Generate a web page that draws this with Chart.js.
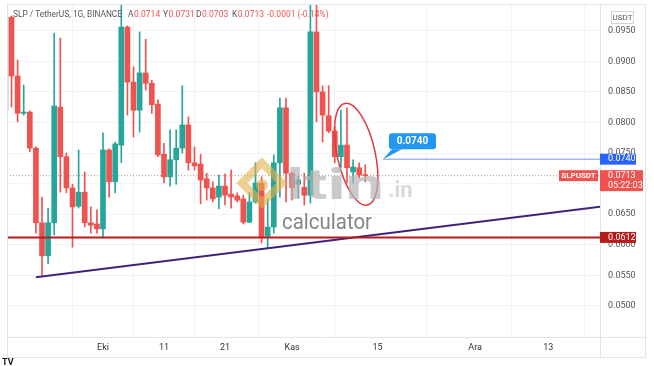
<!DOCTYPE html>
<html>
<head>
<meta charset="utf-8">
<script src="https://cdn.jsdelivr.net/npm/chart.js@4.4.1/dist/chart.umd.min.js"></script>
<style>
  html, body { margin: 0; padding: 0; background: #fff; }
  #wrap { width: 654px; height: 366px; }
</style>
</head>
<body>
<div id="wrap"><canvas id="chart" width="654" height="366"></canvas></div>
<script>
// Velas diarias SLP/USDT, dias contados desde el 1 de Eki (octubre)
const days = [-16, -15, -14, -13, -12, -11, -10, -9, -8, -7, -6, -5, -4, -3, -2, -1,
  0, 1, 2, 3, 4, 5, 6, 7, 8, 9, 10, 11, 12, 13, 14, 15, 16, 17, 18, 19, 20, 21, 22, 23,
  24, 25, 26, 27, 28, 29, 30, 31, 32, 33, 34, 35, 36, 37, 38, 39, 40, 41, 42, 43];

const opens = [0.0820, 0.0972, 0.0876, 0.0815, 0.0817, 0.0758, 0.0636, 0.0582, 0.0636, 0.0825,
  0.0744, 0.0693, 0.0663, 0.0686, 0.0636, 0.0634, 0.0626, 0.0755, 0.0703, 0.0763,
  0.0956, 0.0866, 0.0820, 0.0881, 0.0864, 0.0830, 0.0748, 0.0711, 0.0739, 0.0758,
  0.0796, 0.0734, 0.0732, 0.0708, 0.0693, 0.0678, 0.0696, 0.0683, 0.0680, 0.0675,
  0.0637, 0.0670, 0.0701, 0.0614, 0.0629, 0.0734, 0.0824, 0.0717, 0.0699, 0.0694,
  0.0681, 0.0948, 0.0850, 0.0811, 0.0786, 0.0744, 0.0763, 0.0719, 0.0726, 0.0714];

const highs = [0.0974, 0.0974, 0.0902, 0.0861, 0.0819, 0.0760, 0.0678, 0.0660, 0.0946, 0.0938,
  0.0750, 0.0699, 0.0755, 0.0719, 0.0662, 0.0657, 0.0783, 0.0757, 0.0768, 0.0992,
  0.0958, 0.0891, 0.0948, 0.0936, 0.0869, 0.0837, 0.0766, 0.0788, 0.0788, 0.0860,
  0.0809, 0.0760, 0.0748, 0.0717, 0.0703, 0.0714, 0.0716, 0.0722, 0.0685, 0.0681,
  0.0685, 0.0734, 0.0711, 0.0675, 0.0747, 0.0840, 0.0840, 0.0719, 0.0712, 0.0717,
  0.0992, 0.0992, 0.0860, 0.0860, 0.0793, 0.0820, 0.0824, 0.0739, 0.0734, 0.0731];

const lows = [0.0812, 0.0825, 0.0801, 0.0812, 0.0752, 0.0619, 0.0549, 0.0569, 0.0616, 0.0686,
  0.0685, 0.0596, 0.0660, 0.0629, 0.0619, 0.0619, 0.0611, 0.0678, 0.0685, 0.0734,
  0.0812, 0.0776, 0.0784, 0.0853, 0.0815, 0.0744, 0.0701, 0.0696, 0.0699, 0.0750,
  0.0722, 0.0722, 0.0667, 0.0673, 0.0670, 0.0659, 0.0665, 0.0660, 0.0670, 0.0634,
  0.0636, 0.0668, 0.0603, 0.0595, 0.0619, 0.0678, 0.0670, 0.0673, 0.0677, 0.0665,
  0.0668, 0.0801, 0.0768, 0.0783, 0.0734, 0.0727, 0.0701, 0.0701, 0.0709, 0.0703];

const closes = [0.0972, 0.0876, 0.0815, 0.0817, 0.0758, 0.0636, 0.0582, 0.0636, 0.0827, 0.0744,
  0.0693, 0.0662, 0.0686, 0.0636, 0.0632, 0.0626, 0.0755, 0.0703, 0.0765, 0.0956,
  0.0866, 0.0820, 0.0881, 0.0864, 0.0829, 0.0747, 0.0711, 0.0739, 0.0758, 0.0796,
  0.0734, 0.0729, 0.0706, 0.0693, 0.0675, 0.0696, 0.0681, 0.0678, 0.0673, 0.0637,
  0.0670, 0.0701, 0.0613, 0.0629, 0.0734, 0.0824, 0.0717, 0.0693, 0.0706, 0.0681,
  0.0948, 0.0850, 0.0812, 0.0786, 0.0744, 0.0763, 0.0726, 0.0727, 0.0714, 0.0713];

// Ejes
const tickDays = [0, 10, 20, 31, 45, 61, 73];
const tickLabels = ['Eki', '11', '21', 'Kas', '15', 'Ara', '13'];
const priceTicks = [0.0500, 0.0550, 0.0600, 0.0650, 0.0700, 0.0750, 0.0800, 0.0850, 0.0900, 0.0950];
const viewDays = [-15.74, 81.48];
const viewPrices = [0.04492, 0.09937];

// Niveles y línea de tendencia dibujados sobre el gráfico
const supportLevel = 0.0612;
const targetLevel = 0.0740;
const targetFromDay = 45.9;
const lastPrice = 0.0713;
const lastCountdown = '05:22:03';
const trendDays = [-11, 81.48];
const trendPrices = [0.0547, 0.0662];
const ohlcLast = { A: '0.0714', Y: '0.0731', D: '0.0703', K: '0.0713' };
const changeText = '-0.0001 (-0.14%)';

const upColor = '#26a69a';
const downColor = '#ef5350';
const fontFamily = 'Roboto, "Liberation Sans", sans-serif';

const candleColors = days.map((d, i) => closes[i] >= opens[i] ? upColor : downColor);


// Plugin para fondo, marco, etiquetas de precio, anotaciones y marca de agua
const overlayPlugin = {
    id: 'overlay',
    beforeDraw(chart) {
        const ctx = chart.ctx;
        ctx.save();
        ctx.fillStyle = '#ffffff';
        ctx.fillRect(0, 0, chart.width, chart.height);
        ctx.restore();
    },
    afterDatasetsDraw(chart) {
        const ctx = chart.ctx;
        const x = chart.scales.x;
        const y = chart.scales.y;

        // elipse roja alrededor de las últimas velas
        ctx.save();
        ctx.strokeStyle = '#e0393a';
        ctx.lineWidth = 1.5;
        ctx.beginPath();
        ctx.ellipse(x.getPixelForValue(41.5), y.getPixelForValue(0.0748), 19, 52, -0.22, 0, Math.PI * 2);
        ctx.stroke();
        ctx.restore();

        // globo 0.0740
        const tx = x.getPixelForValue(targetFromDay);
        const ty = y.getPixelForValue(targetLevel);
        ctx.save();
        ctx.fillStyle = '#2196f3';
        ctx.beginPath();
        ctx.moveTo(tx, ty);
        ctx.lineTo(tx + 9, ty - 10);
        ctx.lineTo(tx + 19, ty - 10);
        ctx.closePath();
        ctx.fill();
        ctx.beginPath();
        ctx.roundRect(tx + 6, ty - 26, 47, 16, 3);
        ctx.fill();
        ctx.fillStyle = '#ffffff';
        ctx.font = 'bold 10px ' + fontFamily;
        ctx.textAlign = 'center';
        ctx.textBaseline = 'middle';
        ctx.fillText(targetLevel.toFixed(4), tx + 29.5, ty - 17.5);
        ctx.restore();

        // marca de agua altin.in calculator
        ctx.save();
        ctx.globalAlpha = 0.6;
        ctx.strokeStyle = '#e3b04b';
        ctx.fillStyle = '#e3b04b';
        ctx.lineWidth = 8;
        ctx.beginPath();
        ctx.moveTo(262, 163);
        ctx.lineTo(282, 183);
        ctx.lineTo(262, 203);
        ctx.lineTo(242, 183);
        ctx.closePath();
        ctx.stroke();
        ctx.beginPath();
        ctx.arc(262, 185, 6, 0, Math.PI * 2);
        ctx.fill();

        ctx.globalAlpha = 0.7;
        ctx.fillStyle = '#b3b3b3';
        ctx.font = 'bold 42px ' + fontFamily;
        ctx.textBaseline = 'alphabetic';
        const w = ctx.measureText('ltin').width;
        ctx.save();
        ctx.translate(286, 199);
        ctx.scale(98 / w, 1);
        ctx.fillText('ltin', 0, 0);
        ctx.restore();

        ctx.globalAlpha = 0.5;
        ctx.font = 'bold 22px ' + fontFamily;
        ctx.fillText('.in', 388, 197);
        ctx.globalAlpha = 0.85;
        ctx.fillStyle = '#707070';
        ctx.font = '22px ' + fontFamily;
        ctx.fillText('calculator', 282, 229, 90);
        ctx.restore();
    },
    afterDraw(chart) {
        const ctx = chart.ctx;
        const area = chart.chartArea;
        const y = chart.scales.y;

        // marco
        ctx.save();
        ctx.strokeStyle = '#e0e3eb';
        ctx.lineWidth = 1;
        ctx.strokeRect(area.left + 0.5, area.top + 0.5, 645 - area.left, 357 - area.top);
        ctx.beginPath();
        ctx.moveTo(area.right + 0.5, area.top);
        ctx.lineTo(area.right + 0.5, 357.5);
        ctx.moveTo(area.left, area.bottom + 0.5);
        ctx.lineTo(645.5, area.bottom + 0.5);
        ctx.stroke();
        ctx.restore();

        // etiquetas en el eje de precios
        function tag(value, fill, left, width, height) {
            const py = y.getPixelForValue(value);
            ctx.fillStyle = fill;
            ctx.fillRect(left, py - 5.5, width, height);
        }
        ctx.save();
        ctx.font = '9px ' + fontFamily;
        ctx.textBaseline = 'middle';
        ctx.textAlign = 'left';

        tag(targetLevel, '#2962ff', area.right, 36, 11);
        ctx.fillStyle = '#ffffff';
        ctx.fillText(targetLevel.toFixed(4), area.right + 8, y.getPixelForValue(targetLevel));

        tag(lastPrice, '#ef5350', area.right, 43, 21);
        ctx.fillStyle = '#ffffff';
        ctx.fillText(lastPrice.toFixed(4), area.right + 8, y.getPixelForValue(lastPrice));
        ctx.fillText(lastCountdown, area.right + 8, y.getPixelForValue(lastPrice) + 10);

        tag(lastPrice, '#ef5350', area.right - 41, 39, 11);
        ctx.fillStyle = '#ffffff';
        ctx.font = 'bold 8px ' + fontFamily;
        ctx.textAlign = 'center';
        ctx.fillText('SLPUSDT', area.right - 21.5, y.getPixelForValue(lastPrice), 37);

        ctx.font = '9px ' + fontFamily;
        ctx.textAlign = 'left';
        tag(supportLevel, '#b71c1c', area.right, 36, 11);
        ctx.fillStyle = '#ffffff';
        ctx.fillText(supportLevel.toFixed(4), area.right + 8, y.getPixelForValue(supportLevel));

        // caja USDT
        ctx.fillStyle = '#ffffff';
        ctx.fillRect(611, 11, 22, 12);
        ctx.strokeStyle = '#d1d4dc';
        ctx.strokeRect(611.5, 11.5, 22, 12);
        ctx.fillStyle = '#555555';
        ctx.font = '8px ' + fontFamily;
        ctx.textAlign = 'center';
        ctx.fillText('USDT', 622.5, 17.5, 20);

        // leyenda superior
        ctx.textAlign = 'left';
        ctx.font = '8.5px ' + fontFamily;
        ctx.fillStyle = '#555555';
        ctx.fillText('SLP / TetherUS, 1G, BINANCE', 13, 15, 109);
        const groups = [['A', 128], ['Y', 163], ['D', 196], ['K', 232]];
        groups.forEach(([k, gx]) => {
            ctx.fillStyle = '#555555';
            ctx.fillText(k, gx, 15);
            const kw = ctx.measureText(k).width + 0.5;
            ctx.fillStyle = '#ef5350';
            ctx.fillText(ohlcLast[k], gx + kw, 15, 27);
        });
        ctx.fillText(changeText, 267, 15, 64);

        // logo inferior
        ctx.fillStyle = '#131722';
        ctx.font = 'bold 9px ' + fontFamily;
        ctx.fillText('TV', 2, 363);
        ctx.restore();
    }
};


// Gráfico de velas con barras flotantes (mecha + cuerpo) y líneas de referencia
const ctxCandles = document.getElementById('chart').getContext('2d');
const candleChart = new Chart(ctxCandles, {
    type: 'bar',
    data: {
        datasets: [
            {
                type: 'line',
                label: 'Soporte',
                data: [{ x: viewDays[0], y: supportLevel }, { x: viewDays[1], y: supportLevel }],
                borderColor: '#b71c1c',
                borderWidth: 2,
                pointRadius: 0,
                order: 0
            },
            {
                type: 'line',
                label: 'Tendencia',
                data: [{ x: trendDays[0], y: trendPrices[0] }, { x: trendDays[1], y: trendPrices[1] }],
                borderColor: '#42237a',
                borderWidth: 2,
                pointRadius: 0,
                order: 0
            },
            {
                type: 'line',
                label: 'Objetivo',
                data: [{ x: targetFromDay, y: targetLevel }, { x: viewDays[1], y: targetLevel }],
                borderColor: '#a3b8ee',
                borderWidth: 1.5,
                pointRadius: 0,
                order: 0
            },
            {
                type: 'line',
                label: 'Último',
                data: [{ x: viewDays[0], y: lastPrice }, { x: viewDays[1], y: lastPrice }],
                borderColor: 'rgba(160, 120, 120, 0.8)',
                borderWidth: 1,
                borderDash: [1, 2],
                pointRadius: 0,
                order: 3
            },
            {
                label: 'Cuerpo',
                data: days.map((d, i) => ({ x: d, y: [Math.min(opens[i], closes[i]), Math.max(opens[i], closes[i])] })),
                backgroundColor: candleColors,
                barThickness: 5,
                minBarLength: 1,
                grouped: false,
                order: 1
            },
            {
                label: 'Mecha',
                data: days.map((d, i) => ({ x: d, y: [lows[i], highs[i]] })),
                backgroundColor: candleColors,
                barThickness: 1,
                grouped: false,
                order: 2
            }
        ]
    },
    options: {
        responsive: false,
        animation: false,
        layout: { padding: { left: 7, top: 4, right: 0, bottom: 9 } },
        plugins: {
            legend: { display: false },
            tooltip: { enabled: false }
        },
        scales: {
            x: {
                type: 'linear',
                min: viewDays[0],
                max: viewDays[1],
                offset: false,
                afterBuildTicks: s => { s.ticks = tickDays.map(v => ({ value: v })); },
                afterFit: s => { s.height = 20; s.paddingLeft = 0; s.paddingRight = 0; },
                ticks: {
                    callback: (v, i) => tickLabels[i],
                    color: '#333333',
                    font: { size: 9, family: fontFamily },
                    padding: 5,
                    maxRotation: 0,
                    autoSkip: false
                },
                grid: { color: '#f0f3fa', drawTicks: false },
                border: { display: false }
            },
            y: {
                position: 'right',
                min: viewPrices[0],
                max: viewPrices[1],
                afterBuildTicks: s => { s.ticks = priceTicks.map(v => ({ value: v })); },
                afterFit: s => { s.width = 54; s.paddingTop = 0; s.paddingBottom = 0; },
                ticks: {
                    callback: v => v.toFixed(4),
                    color: '#555555',
                    font: { size: 9, family: fontFamily },
                    padding: 8
                },
                grid: { color: '#f0f3fa', drawTicks: false },
                border: { display: false }
            }
        }
    },
    plugins: [overlayPlugin]
});
</script>
</body>
</html>
